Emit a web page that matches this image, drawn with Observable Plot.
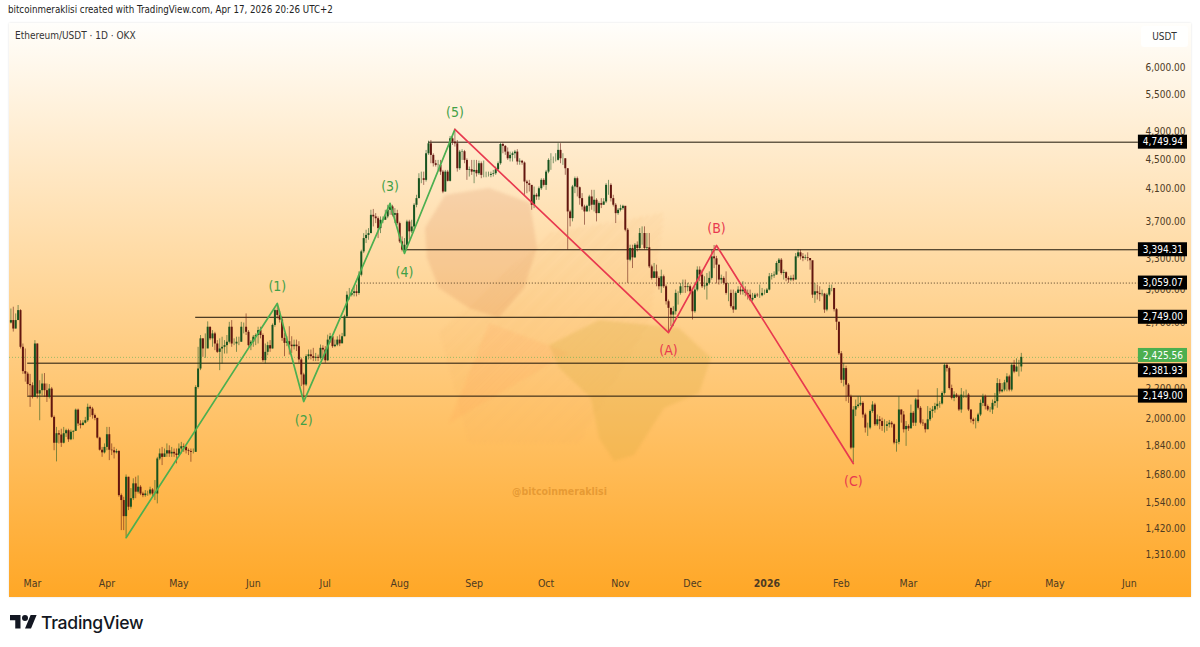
<!DOCTYPE html>
<html><head><meta charset="utf-8">
<script src="https://cdn.jsdelivr.net/npm/d3@7"></script>
<script src="https://cdn.jsdelivr.net/npm/@observablehq/plot@0.6"></script>
<style>
html,body{margin:0;padding:0;background:#fff;overflow:hidden}
body{width:1200px;height:647px;position:relative;font-family:"DejaVu Sans Condensed","DejaVu Sans",sans-serif;color:#131722}
#head{position:absolute;left:8px;top:3px;font-size:9.7px;line-height:13px;white-space:nowrap;color:#222}
#panel{position:absolute;left:9px;top:23px;width:1182px;height:574px;overflow:hidden;
 background:linear-gradient(180deg,#fffefb 0%,#ffa726 100%);box-shadow:0 0 2px rgba(0,0,0,.12)}
#panel svg{position:absolute;left:0;top:0;background:transparent}
.wrap{position:absolute;left:0;top:0;width:1182px;height:574px;filter:blur(1.5px)}
.wm{position:absolute;left:0;top:0;width:1182px;height:574px}
#sym{position:absolute;left:6px;top:6px;font-size:10px;line-height:13px;color:#333}
#unit{position:absolute;left:1132px;top:3px;width:47px;height:21px;line-height:21px;text-align:center;font-size:10px;
 background:rgba(255,255,255,.85);border-radius:3px;color:#333}
#tag{position:absolute;left:503px;top:462px;font:bold 10.5px "DejaVu Sans Condensed","DejaVu Sans",sans-serif;color:rgba(205,125,25,.5)}
#foot{position:absolute;left:10px;top:612px;display:flex;align-items:center;gap:4px;font:500 17.6px Inter,sans-serif;letter-spacing:-.3px;color:#131722}
</style></head><body>
<div id="head">bitcoinmeraklisi created with TradingView.com, Apr 17, 2026 20:26 UTC+2</div>
<div id="panel">
 <div class="wrap">
 <div class="wm" style="background:repeating-linear-gradient(135deg,rgba(235,170,90,.2) 0 1.5px,transparent 1.5px 4px);clip-path:polygon(431px 310px,540px 210px,655px 190px,640px 300px,570px 420px,460px 420px)"></div>
 <div class="wm" style="background:rgba(255,140,70,.1);clip-path:polygon(440px 400px,480px 300px,560px 330px)"></div>
 <div class="wm" style="background:rgba(190,85,40,.13);clip-path:polygon(416px 205px,436px 172px,480px 165px,521px 180px,528px 225px,515px 265px,490px 295px,460px 285px,430px 265px,418px 235px)"></div>
 <div class="wm" style="background:rgba(215,170,60,.26);clip-path:polygon(540px 322px,590px 297px,670px 305px,702px 335px,690px 370px,655px 385px,625px 432px,605px 438px,590px 415px,582px 375px,550px 345px)"></div>
 </div>
 <div id="tag">@bitcoinmeraklisi</div>
 <div id="chart"></div>
 <div id="sym">Ethereum/USDT · 1D · OKX</div>
 <div id="unit">USDT</div>
</div>
<div id="foot"><svg width="27" height="21" viewBox="0 0 36 28"><path fill="#131722" d="M14 22H7V11H0V4h14v18zM28 22h-8l7.5-18h8L28 22z"/><circle fill="#131722" cx="20" cy="8" r="4"/></svg><span>TradingView</span></div>
<script>
const firstDay = Date.UTC(2025, 1, 20);
const closes = [
2721,2650,2721,2807,2503,2320,2302,2228,2220,
2141,2529,2163,2186,2232,2186,2141,2197,2011,1855,1911,1903,1855,1911,1929,1875,1920,1925,2057,1970,1960,1975,1990,2075,2064,2022,2005,1885,1815,1800,1831,
1905,1815,1812,1800,1808,1575,1551,1475,1668,1519,1560,1634,1592,1617,1583,1575,1583,1583,1603,1583,1583,1766,1794,1775,1794,1812,1794,1803,1794,1785,
1822,1835,1831,1812,1808,1803,1803,2208,2339,2570,2490,2490,2665,2570,2610,2529,2464,2490,2503,2516,2543,2665,2529,2529,2543,2543,2665,2665,2623,2516,2543,
2583,2597,2637,2597,2401,2464,2516,2490,2680,2807,2765,2725,2574,2534,2547,2520,2508,2520,2508,2406,2296,2225,2431,2445,2431,2418,2426,2418,2495,2482,
2400,2560,2587,2508,2520,2560,2530,2587,2753,2945,2945,2961,2977,2961,3135,3372,3515,3550,3570,3780,3761,3740,3626,3722,3722,3761,3840,3880,3780,3800,3683,
3479,3390,3443,3702,3590,3645,3900,3982,4238,4238,4216,4581,4726,4558,4441,4418,4420,4326,4065,4326,4203,4800,4750,4726,4372,4605,4610,4487,4349,4358,4326,
4349,4304,4441,4282,4282,4282,4282,4295,4304,4358,4441,4716,4688,4605,4510,4558,4581,4605,4465,4475,4450,4194,4172,4150,3900,4024,4003,4107,4216,4150,
4326,4487,4488,4488,4488,4630,4510,4510,4372,3820,3741,4130,4238,4120,3982,3880,3820,3888,4003,3901,3962,3800,3921,3901,3941,4151,4151,3982,3901,3800,3840,
3860,3888,3608,3286,3408,3310,3443,3408,3571,3571,3408,3415,3218,3104,3168,3104,3024,3120,3024,2886,2827,2768,2797,2962,2962,3024,3024,3016,3024,2977,
2797,2993,3185,3136,3024,3030,3056,3104,3320,3300,3235,3088,3104,3056,2962,2962,2841,2812,2962,2993,2977,2993,2962,2946,2901,2916,2946,2940,2940,2962,2962,
2993,3120,3128,3136,3252,3286,3152,3160,3104,3088,3104,3088,3320,3362,3320,3303,3310,3303,3280,2946,2977,2962,2950,2955,2812,2946,3008,3008,2815,2707,2453,
2258,2342,2224,2145,1827,2058,2080,2090,2101,2026,1945,1945,2048,2090,1965,1996,1985,1955,1955,1965,1975,1965,1856,1860,2058,2026,1935,1955,
1940,2037,1975,2123,2069,1975,1971,1935,1996,2048,2058,2080,2095,2097,2167,2366,2342,2201,2134,2156,2145,2058,2156,2156,2156,2058,1996,1985,1985,2026,2101,
2145,2080,2058,2058,2101,2112,2235,2178,2190,2240,2282,2190,2366,2317,2354,2354,2425.56];
const highs = [
2821,2837,2778,2852,2815,2529,2490,2315,2300,
2240,2556,2529,2255,2302,2306,2232,2228,2208,2020,1949,1929,1938,1949,1938,1938,1933,1929,2064,2064,1990,1990,2011,2096,2085,2075,2032,2005,1890,1831,1851,
1949,1949,1851,1831,1820,1812,1583,1567,1680,1668,1610,1660,1668,1675,1625,1592,1600,1597,1617,1610,1651,1775,1822,1831,1822,1851,1840,1831,1822,1822,
1851,1860,1851,1835,1822,1822,1822,2220,2503,2597,2570,2610,2710,2665,2637,2623,2556,2570,2583,2556,2597,2706,2721,2570,2583,2583,2706,2700,2778,2637,2556,
2597,2610,2665,2665,2610,2529,2543,2556,2692,2820,2870,2800,2750,2614,2587,2669,2587,2560,2560,2547,2420,2308,2445,2482,2482,2495,2456,2443,2521,2515,
2508,2600,2614,2600,2560,2587,2600,2614,2767,2977,3008,2992,3023,3040,3168,3390,3570,3608,3626,3840,3850,3800,3761,3761,3761,3840,3900,3925,3900,3860,3840,
3700,3533,3515,3722,3722,3722,3920,4024,4304,4326,4326,4629,4765,4775,4581,4487,4487,4487,4349,4349,4349,4835,4835,4943,4775,4629,4640,4629,4510,4395,4487,
4487,4487,4478,4465,4478,4326,4326,4326,4349,4395,4465,4735,4735,4700,4665,4605,4605,4629,4640,4510,4487,4465,4216,4216,4150,4129,4044,4129,4238,4238,
4349,4510,4582,4535,4582,4727,4727,4582,4510,4372,3840,4150,4260,4260,4130,4045,3901,3901,4024,4087,4087,3982,3941,3982,3982,4173,4216,4173,4024,3921,3860,
3901,3901,3880,3627,3443,3443,3461,3479,3627,3646,3646,3571,3571,3235,3252,3235,3120,3185,3136,3040,2901,2827,2841,2993,2977,3056,3088,3088,3056,3040,
2993,3024,3218,3218,3185,3120,3152,3168,3390,3440,3325,3235,3136,3120,3168,3056,2993,2993,2977,3024,3024,3072,3024,2993,2993,2962,2962,2962,3040,3008,2993,
3008,3152,3152,3168,3270,3303,3303,3185,3168,3120,3128,3136,3355,3397,3390,3355,3338,3362,3303,3192,3056,3040,3024,2993,2962,2962,3040,3040,3008,2825,2707,
2470,2380,2360,2235,2156,2080,2123,2145,2145,2112,2037,1975,2058,2112,2101,2026,2016,2006,1996,1985,1992,1985,1970,1876,2145,2058,2048,1985,
1965,2090,2048,2134,2190,2080,1996,1975,2080,2069,2080,2101,2200,2112,2178,2378,2378,2354,2224,2178,2167,2156,2201,2178,2190,2167,2058,2006,2006,2037,2123,
2162,2156,2090,2075,2123,2167,2270,2262,2235,2258,2305,2294,2378,2403,2415,2403,2456];
const lows = [
2692,2625,2650,2735,2490,2300,2245,2150,2075,
2130,2141,2130,1990,2150,2141,2107,2130,2005,1812,1750,1851,1831,1851,1889,1860,1870,1875,1929,1955,1940,1960,1970,1980,2011,2000,1990,1880,1810,1775,1794,
1812,1757,1785,1766,1794,1567,1412,1412,1383,1503,1510,1551,1560,1583,1575,1565,1567,1572,1575,1567,1551,1535,1757,1730,1775,1775,1775,1775,1775,1739,
1785,1794,1803,1794,1785,1748,1794,1803,2197,2327,2426,2418,2503,2556,2503,2477,2455,2327,2376,2451,2451,2529,2503,2516,2464,2516,2543,2610,2597,2503,2477,
2503,2516,2529,2570,2388,2376,2438,2464,2490,2665,2735,2700,2550,2431,2508,2443,2456,2482,2470,2381,2214,2125,2214,2406,2406,2394,2394,2394,2406,2406,
2381,2394,2534,2495,2500,2508,2508,2534,2587,2739,2900,2930,2930,2930,2945,3119,3354,3461,3497,3570,3645,3683,3515,3570,3683,3722,3740,3780,3761,3683,3664,
3461,3372,3354,3407,3497,3570,3608,3870,3982,4172,4150,4194,4558,4441,4395,4395,4349,4282,4044,4065,4194,4194,4702,4678,4326,4349,4487,4441,4216,4260,4282,
4172,4260,4282,4238,4250,4250,4260,4250,4260,4282,4349,4420,4581,4558,4487,4465,4465,4510,4420,4420,4420,4024,4044,4065,3840,3860,3961,3961,4086,4129,
4086,4304,4350,4441,4465,4478,4441,4418,4283,3390,3646,3703,4045,4003,3901,3840,3665,3820,3820,3840,3820,3703,3820,3860,3901,3921,4024,3941,3880,3684,3780,
3820,3840,3590,3056,3270,3201,3303,3372,3390,3443,3390,3390,3201,3088,3104,3024,2993,2962,3008,2856,2622,2670,2670,2768,2856,2946,2962,2962,2977,2962,
2726,2783,2977,3072,3008,2993,2901,3040,3088,3200,3050,3040,3056,3040,2946,2886,2827,2783,2812,2962,2946,2946,2931,2901,2886,2886,2916,2925,2916,2931,2946,
2962,2985,3088,3104,3136,3168,3136,3088,3072,3056,3072,3072,3088,3303,3286,3270,3286,3270,3185,2916,2871,2901,2886,2931,2783,2797,2931,2977,2795,2638,2440,
2235,2212,2112,2101,1818,1745,2016,2069,2080,2006,1915,1895,1935,2037,1955,1955,1935,1925,1915,1925,1945,1945,1846,1804,1846,1975,1915,1837,
1925,1955,1955,1955,2058,1965,1955,1915,1935,1985,2006,2037,2058,2069,2090,2156,2317,2190,2123,2112,2134,2048,2037,2134,2134,2048,1975,1965,1940,1975,2016,
2080,2058,2048,2041,2030,2080,2069,2162,2170,2178,2178,2178,2178,2305,2317,2282,2317];

const waveLabels = ["","(1)","(2)","(3)","(4)","(5)"];
const waveDates = ["2025-04-09","2025-06-11","2025-06-22","2025-07-28","2025-08-03","2025-08-24"];
const wavePrices = [1381,2870,2113,3923,3355,4943];
const waveAbove = [false,true,false,true,false,true];
const corrLabels = ["","(A)","(B)","(C)"];
const corrDates = ["2025-08-24","2025-11-21","2025-12-11","2026-02-06"];
const corrPrices = [4943,2621,3440,1741];
const corrAbove = [false,false,true,false];

const levelPrices = [4749.94,3394.31,2749,2381.93,2149];
const levelStarts = ["2025-08-13","2025-08-03","2025-05-08","2025-02-27","2025-02-27"];
const dottedLevel = 3059.07, dottedStart = "2025-07-16";
const lastPrice = 2425.56;

const tagPrices = [4749.94,3394.31,3059.07,2749,2381.93,2149];
const tagPlaces = [4749.94,3394.31,3059.07,2749,2326,2149];
const axisPrices = [6000,5500,4900,4500,4100,3700,3300,3000,2700,2200,2000,1840,1680,1540,1420,1310];
const monthDates = ["2025-03-01","2025-04-01","2025-05-01","2025-06-01","2025-07-01","2025-08-01","2025-09-01","2025-10-01","2025-11-01","2025-12-01","2026-02-01","2026-03-01","2026-04-01","2026-05-01","2026-06-01"];
const yearDate = "2026-01-01";

const D = s => new Date(s);
const fmt = d3.format(",.2f");
const candles = closes.map((c,i)=>({date:new Date(firstDay+i*864e5),open:i?closes[i-1]:2700,close:c,high:highs[i],low:lows[i]}));
const wave = waveDates.map((d,i)=>({date:D(d),price:wavePrices[i],label:waveLabels[i],above:waveAbove[i]}));
const corr = corrDates.map((d,i)=>({date:D(d),price:corrPrices[i],label:corrLabels[i],above:corrAbove[i]}));
const levels = levelPrices.map((p,i)=>({price:p,start:D(levelStarts[i])}));
const tags = tagPrices.map((p,i)=>({price:p,at:tagPlaces[i]}));
const tagLeft = D("2026-06-04T19:00Z"), tagRight = D("2026-06-25T06:00Z"), tagMid = D("2026-06-15T00:00Z"), ruleEnd = D("2026-06-04T19:00Z");
const halfBox = Math.exp(7/320);
const lastAt = 2440;
const up = "#17531f", down = "#63160f", axisInk = "#4d3a22";
const green = "#43a047", red = "#e8394f";
const waveText = (data,fill,above,dy) => Plot.text(data.filter(d=>d.label && d.above===above),{x:"date",y:"price",text:"label",dy,fill,fontSize:14});

const plot = Plot.plot({
  width:1182, height:574, marginLeft:0, marginRight:51, marginTop:0, marginBottom:24,
  style:{background:"transparent",fontFamily:'"DejaVu Sans Condensed","DejaVu Sans",sans-serif',fontSize:"10px",overflow:"visible"},
  x:{type:"utc",domain:[D("2025-02-19T10:00Z"),D("2026-06-05T16:00Z")],label:null},
  y:{type:"log",domain:[1235,6881],label:null},
  marks:[
    Plot.ruleY([lastPrice],{x1:D("2025-02-19T10:00Z"),x2:ruleEnd,stroke:"#4caf50",strokeOpacity:.55,strokeWidth:1,strokeDasharray:"1 2"}),
    Plot.ruleY([dottedLevel],{x1:D(dottedStart),x2:ruleEnd,stroke:"#2a1c08",strokeWidth:.8,strokeDasharray:"1 2"}),
    Plot.ruleY(levels,{y:"price",x1:"start",x2:ruleEnd,stroke:"#1d1508",strokeWidth:1}),
    Plot.ruleX(candles,{x:"date",y1:"low",y2:"high",stroke:d=>d.close>=d.open?up:down,strokeOpacity:.55,strokeWidth:1}),
    Plot.ruleX(candles,{x:"date",y1:"open",y2:"close",stroke:d=>d.close>=d.open?up:down,strokeWidth:2}),
    Plot.line(wave,{x:"date",y:"price",stroke:"#4caf50",strokeWidth:1.7}),
    Plot.line(corr,{x:"date",y:"price",stroke:red,strokeWidth:1.7}),
    waveText(wave,green,true,-17), waveText(wave,green,false,19),
    waveText(corr,red,true,-17), waveText(corr,red,false,18),
    Plot.axisX({ticks:monthDates.map(D),tickFormat:d3.utcFormat("%b"),tickSize:0,tickPadding:6,label:null,fill:axisInk,fontSize:10.5}),
    Plot.axisX({ticks:[D(yearDate)],tickFormat:d=>String(d.getUTCFullYear()),tickSize:0,tickPadding:6,label:null,fill:axisInk,fontSize:10.5,fontWeight:"bold"}),
    Plot.axisY({anchor:"right",ticks:axisPrices,tickFormat:fmt,tickSize:0,tickPadding:5,label:null,fill:axisInk,fontSize:10}),
    Plot.rect(tags,{x1:tagLeft,x2:tagRight,y1:d=>d.at/halfBox,y2:d=>d.at*halfBox,fill:"#000"}),
    Plot.rect([lastAt],{x1:tagLeft,x2:tagRight,y1:d=>d/halfBox,y2:d=>d*halfBox,fill:"#4caf50"}),
    Plot.text(tags,{x:tagMid,y:"at",text:d=>fmt(d.price),fill:"#fff",fontSize:10}),
    Plot.text([lastAt],{x:tagMid,y:d=>d,text:()=>fmt(lastPrice),fill:"#fff",fontSize:10})
  ]
});
document.getElementById("chart").append(plot);
</script>
</body></html>
